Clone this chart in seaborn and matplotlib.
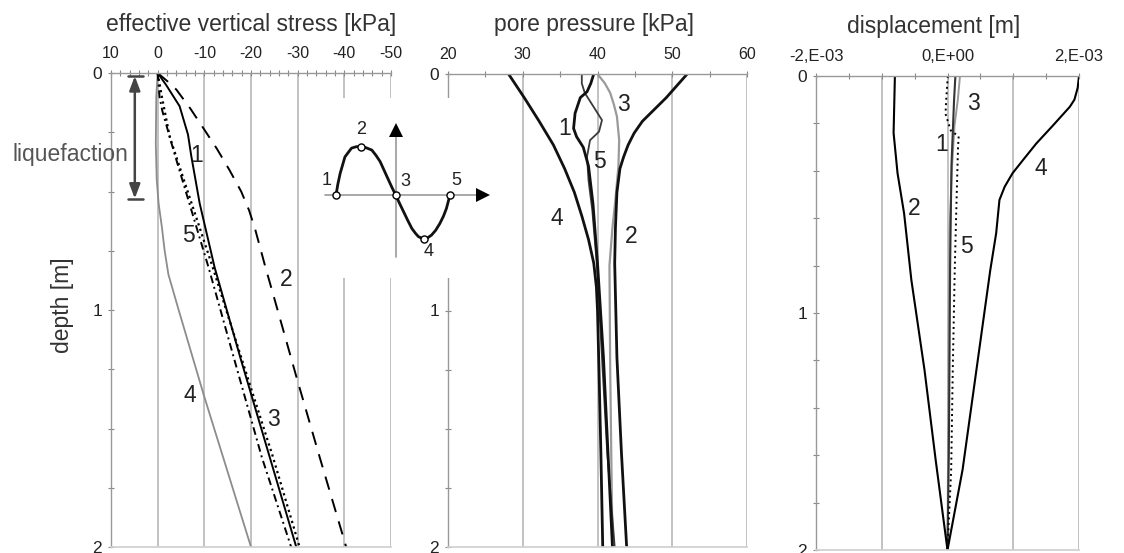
import matplotlib
matplotlib.use('Agg')
import matplotlib.pyplot as plt
from matplotlib.ticker import FixedLocator, FixedFormatter, MultipleLocator
import seaborn as sns

# --- effective vertical stress [kPa] vs depth [m] ---
sv_depth_1 = [0, 0.05, 0.14, 0.26, 0.35, 0.55, 0.82, 1.2, 1.62, 2.0]
sv_1 = [0, -1.8, -4.7, -6.5, -7.2, -9.0, -12.2, -17.7, -24.0, -29.7]
sv_depth_2 = [0, 0.035, 0.07, 0.15, 0.23, 0.32, 0.41, 0.5, 0.58, 0.66, 0.74, 0.82, 1.0, 1.28, 1.62, 2.0]
sv_2 = [0, -2.1, -4.0, -7.0, -9.7, -12.7, -15.4, -17.9, -19.6, -20.9, -22.0, -23.1, -25.7, -29.7, -34.7, -40.4]
sv_depth_3 = [0, 0.1, 0.27, 0.48, 0.82, 1.2, 1.62, 2.0]
sv_3 = [0, -0.9, -2.6, -6.1, -11.8, -17.9, -24.7, -30.4]
sv_depth_4 = [0, 0.1, 0.3, 0.45, 0.55, 0.65, 0.75, 0.85, 1.0, 1.36, 2.0]
sv_4 = [0, 0.3, 0.4, 0.2, -0.2, -0.9, -1.5, -2.3, -4.5, -9.9, -20.0]
sv_depth_5 = [0, 0.1, 0.16, 0.34, 0.61, 0.82, 1.2, 1.62, 2.0]
sv_5 = [0, -0.4, -1.0, -3.6, -7.7, -10.9, -16.3, -22.3, -28.6]

# --- pore pressure [kPa] vs depth [m] ---
pp_depth_1 = [0, 0.04, 0.075, 0.10, 0.166, 0.23, 0.265, 0.31, 0.39, 0.55, 0.8, 1.2, 1.6, 2.0]
pp_1 = [39.5, 39.1, 38.6, 37.7, 37.0, 36.8, 37.2, 38.1, 38.8, 39.4, 40.0, 40.8, 41.4, 42.0]
pp_depth_2 = [0, 0.05, 0.1, 0.15, 0.2, 0.25, 0.3, 0.35, 0.4, 0.5, 0.65, 0.8, 1.2, 1.6, 2.0]
pp_2 = [52.0, 50.6, 49.2, 47.6, 46.0, 44.9, 44.1, 43.5, 43.0, 42.6, 42.4, 42.3, 42.6, 43.2, 43.9]
pp_depth_3 = [0, 0.04, 0.08, 0.13, 0.18, 0.28, 0.39, 0.53, 0.65, 0.81, 1.25, 2.0]
pp_3 = [40.0, 41.0, 41.7, 42.2, 42.6, 42.9, 42.8, 42.4, 42.0, 41.6, 41.7, 42.0]
pp_depth_4 = [0, 0.1, 0.2, 0.3, 0.4, 0.5, 0.6, 0.7, 0.8, 0.9, 1.0, 1.25, 1.6, 2.0]
pp_4 = [28.1, 30.2, 32.2, 34.1, 35.6, 36.9, 37.9, 38.8, 39.5, 39.85, 40.0, 40.2, 40.45, 40.7]
pp_depth_5 = [0, 0.04, 0.08, 0.14, 0.195, 0.244, 0.28, 0.35, 0.45, 0.575, 0.8, 1.2, 1.6, 2.0]
pp_5 = [37.9, 37.9, 38.3, 39.5, 40.6, 40.2, 39.0, 38.6, 38.8, 39.3, 39.9, 40.6, 41.3, 42.3]

# --- displacement [m] vs depth [m] ---
ds_depth_1 = [0, 0.1, 0.24, 0.38, 0.8, 1.2, 1.6, 2.0]
ds_1 = [0.12e-3, 0.10e-3, 0.08e-3, 0.06e-3, 0.04e-3, 0.03e-3, 0.02e-3, 0.0]
ds_depth_2 = [0, 0.12, 0.24, 0.41, 0.58, 0.86, 1.24, 1.62, 2.0]
ds_2 = [-0.80e-3, -0.81e-3, -0.82e-3, -0.76e-3, -0.66e-3, -0.55e-3, -0.35e-3, -0.18e-3, 0.0]
ds_depth_3 = [0, 0.1, 0.21, 0.38, 0.66, 1.0, 1.5, 2.0]
ds_3 = [0.19e-3, 0.157e-3, 0.106e-3, 0.07e-3, 0.03e-3, 0.02e-3, 0.01e-3, 0.0]
ds_depth_4 = [0, 0.05, 0.1, 0.13, 0.21, 0.285, 0.354, 0.41, 0.467, 0.523, 0.664, 0.82, 1.24, 1.66, 2.0]
ds_4 = [2.0e-3, 1.98e-3, 1.93e-3, 1.86e-3, 1.60e-3, 1.35e-3, 1.15e-3, 0.99e-3, 0.87e-3,
        0.79e-3, 0.74e-3, 0.65e-3, 0.44e-3, 0.23e-3, 0.0]
ds_depth_5 = [0, 0.1, 0.16, 0.23, 0.255, 0.3, 0.5, 0.82, 1.24, 1.66, 2.0]
ds_5 = [0.005e-3, -0.02e-3, -0.03e-3, 0.05e-3, 0.17e-3, 0.16e-3, 0.14e-3, 0.11e-3, 0.08e-3, 0.056e-3, 0.0]

# --- inset: one load cycle, points 1..5 ---
wave_x = [-1.0, -0.97, -0.93, -0.85, -0.74, -0.66, -0.58, -0.5, -0.40, -0.33, -0.26, -0.19, -0.12, -0.06,
          0.0, 0.06, 0.13, 0.2, 0.27, 0.33, 0.38, 0.43, 0.47, 0.53, 0.60, 0.67, 0.74, 0.80, 0.85, 0.88, 0.91]
wave_y = [0.0, 0.22, 0.45, 0.79, 0.97, 1.0, 1.0, 0.98, 0.93, 0.82, 0.69, 0.5, 0.31, 0.15,
          0.0, -0.16, -0.34, -0.52, -0.69, -0.79, -0.86, -0.89, -0.90, -0.89, -0.83, -0.73, -0.59, -0.44, -0.28, -0.14, 0.0]
cycle_x = [-1.0, -0.58, 0.0, 0.47, 0.91]
cycle_y = [0.0, 1.0, 0.0, -0.90, 0.0]
cycle_labels = ['1', '2', '3', '4', '5']

stress_ticks = [10, 0, -10, -20, -30, -40, -50]
stress_labels = ['10', '0', '-10', '-20', '-30', '-40', '-50']
pore_ticks = [20, 30, 40, 50, 60]
pore_labels = ['20', '30', '40', '50', '60']
disp_ticks = [-2e-3, 0, 2e-3]
disp_labels = ['-2,E-03', '0,E+00', '2,E-03']
disp_grid = [-1e-3, 0, 1e-3, 2e-3]
depth_ticks = [0, 1, 2]
depth_labels = ['0', '1', '2']

sns.set_theme(style='white')
plt.rcParams['font.family'] = ['Liberation Sans', 'DejaVu Sans']
plt.rcParams['axes.unicode_minus'] = False
plt.rcParams['text.color'] = '#222222'

W, H = 1124, 553
fig = plt.figure(figsize=(W / 100, H / 100), dpi=100)


def px_axes(x0, y0, x1, y1):
    return fig.add_axes([x0 / W, 1 - y1 / H, (x1 - x0) / W, (y1 - y0) / H])


def style(ax, xlim, ticks, labels, minor, yminor, xsize):
    ax.set_xlim(*xlim)
    ax.set_ylim(2, 0)
    ax.set_facecolor('white')
    ax.xaxis.tick_top()
    ax.xaxis.set_major_locator(FixedLocator(ticks))
    ax.xaxis.set_major_formatter(FixedFormatter(labels))
    ax.xaxis.set_minor_locator(MultipleLocator(minor))
    ax.yaxis.set_major_locator(FixedLocator(depth_ticks))
    ax.yaxis.set_major_formatter(FixedFormatter(depth_labels))
    ax.yaxis.set_minor_locator(MultipleLocator(yminor))
    ax.tick_params(axis='x', which='both', top=True, bottom=False, labeltop=True, labelbottom=False,
                   direction='inout', length=4, width=0.8, color='#888888', pad=6.5, labelsize=xsize,
                   labelcolor='#222222')
    ax.tick_params(axis='y', which='both', left=True, right=False, direction='inout', length=4,
                   width=0.8, color='#888888', pad=4.5, labelsize=12.5, labelcolor='#222222')
    for side in ['left', 'top']:
        ax.spines[side].set_color('#999999')
        ax.spines[side].set_linewidth(1.0)
    ax.spines['bottom'].set_color('#d0d0d0')
    ax.spines['right'].set_visible(False)
    ax.set_axisbelow(True)


def curve(ax, x, y, **kw):
    sns.lineplot(x=x, y=y, sort=False, estimator=None, ax=ax, **kw)


grid_kw = dict(color='#c2c2c2', lw=1.4, zorder=0)
lab_kw = dict(fontsize=16.5, ha='center', va='center', color='#222222')

# effective vertical stress
ax1 = px_axes(111, 73, 391, 547)
style(ax1, (10, -50), stress_ticks, stress_labels, 2, 0.25, 11.5)
for v in stress_ticks[1:]:
    ax1.axvline(v, **grid_kw)
curve(ax1, sv_4, sv_depth_4, color='#8c8c8c', lw=1.3)
curve(ax1, sv_2, sv_depth_2, color='black', lw=1.4, linestyle=(0, (7, 5)))
curve(ax1, sv_5, sv_depth_5, color='black', lw=1.4, linestyle=(0, (4, 2, 1, 2)))
curve(ax1, sv_3, sv_depth_3, color='black', lw=1.6, linestyle=(0, (1, 1.6)))
curve(ax1, sv_1, sv_depth_1, color='black', lw=1.4)
for t, x, y in [('1', -8.4, 0.346), ('5', -6.6, 0.684), ('2', -27.6, 0.873), ('3', -24.8, 1.464), ('4', -6.9, 1.359)]:
    ax1.text(x, y, t, **lab_kw)
# liquefaction zone
ax1.annotate('', xy=(4.9, 0.013), xytext=(4.9, 0.53), annotation_clip=False,
             arrowprops=dict(arrowstyle='<|-|>,head_length=0.85,head_width=0.32', color='#444444',
                             lw=1.8, shrinkA=0, shrinkB=0, mutation_scale=10))
ax1.plot([6.4, 3.2], [0.013, 0.013], color='#444444', lw=1.8, clip_on=False)
ax1.plot([6.4, 3.2], [0.53, 0.53], color='#444444', lw=1.8, clip_on=False)
fig.text(70 / W, 1 - 155 / H, 'liquefaction', fontsize=16.5, ha='center', va='center', color='#555555')
fig.text(62 / W, 1 - 305 / H, 'depth [m]', fontsize=16.5, ha='center', va='center', rotation=90, color='#333333')

# pore pressure
ax2 = px_axes(448, 74, 747, 547)
style(ax2, (20, 60), pore_ticks, pore_labels, 5, 0.25, 11.5)
for v in pore_ticks[1:]:
    ax2.axvline(v, **grid_kw)
curve(ax2, pp_3, pp_depth_3, color='#9a9a9a', lw=1.6)
curve(ax2, pp_5, pp_depth_5, color='#3a3a3a', lw=1.3)
curve(ax2, pp_1, pp_depth_1, color='#111111', lw=2.0)
curve(ax2, pp_4, pp_depth_4, color='#111111', lw=2.0)
curve(ax2, pp_2, pp_depth_2, color='#111111', lw=2.0)
for t, x, y in [('1', 35.56, 0.23), ('3', 43.45, 0.131), ('5', 40.33, 0.371), ('4', 34.54, 0.61), ('2', 44.44, 0.688)]:
    ax2.text(x, y, t, **lab_kw)

# displacement
ax3 = px_axes(816, 76, 1079, 550)
style(ax3, (-2e-3, 2e-3), disp_ticks, disp_labels, 0.5e-3, 0.2, 12)
for v in disp_grid:
    ax3.axvline(v, **grid_kw)
curve(ax3, ds_3, ds_depth_3, color='#9a9a9a', lw=1.4)
curve(ax3, ds_1, ds_depth_1, color='#333333', lw=1.5)
curve(ax3, ds_5, ds_depth_5, color='black', lw=1.4, linestyle=(0, (1, 1.8)))
curve(ax3, ds_2, ds_depth_2, color='black', lw=1.5)
curve(ax3, ds_4, ds_depth_4, color='black', lw=1.5)
for t, x, y in [('3', 0.395e-3, 0.115), ('1', -0.096e-3, 0.291), ('4', 1.425e-3, 0.389),
                ('2', -0.502e-3, 0.558), ('5', 0.284e-3, 0.72)]:
    ax3.text(x, y, t, **lab_kw)

# titles
title_kw = dict(fontsize=16.5, ha='center', va='baseline', color='#333333')
fig.text(251 / W, 1 - 31.5 / H, 'effective vertical stress [kPa]', **title_kw)
fig.text(594 / W, 1 - 31.5 / H, 'pore pressure [kPa]', **title_kw)
fig.text(934 / W, 1 - 33 / H, 'displacement [m]', **title_kw)

# inset sketch of the load cycle
axin = px_axes(318, 98, 497, 278)
axin.set_zorder(5)
axin.set_facecolor('white')
axin.set_xlim(-1.302, 1.698)
axin.set_ylim(-1.717, 2.007)
axin.set_xticks([])
axin.set_yticks([])
for s in axin.spines.values():
    s.set_visible(False)
axin.plot([-1.184, 1.5], [0, 0], color='#9a9a9a', lw=1.2)
axin.plot([0, 0], [-1.277, 1.4], color='#9a9a9a', lw=1.2)
axin.plot(1.455, 0, marker='>', ms=10, color='black', mew=0)
axin.plot(0, 1.35, marker='^', ms=10, color='black', mew=0)
curve(axin, wave_x, wave_y, color='#111111', lw=2.0)
sns.scatterplot(x=cycle_x, y=cycle_y, ax=axin, s=26, color='white', edgecolor='black', linewidth=1, zorder=6)
for t, x, y in zip(cycle_labels, [-1.16, -0.58, 0.156, 0.547, 1.02], [0.31, 1.345, 0.275, -1.173, 0.31]):
    axin.text(x, y, t, fontsize=13, ha='center', va='center', color='#222222')

fig.savefig('out.png', dpi=100)
